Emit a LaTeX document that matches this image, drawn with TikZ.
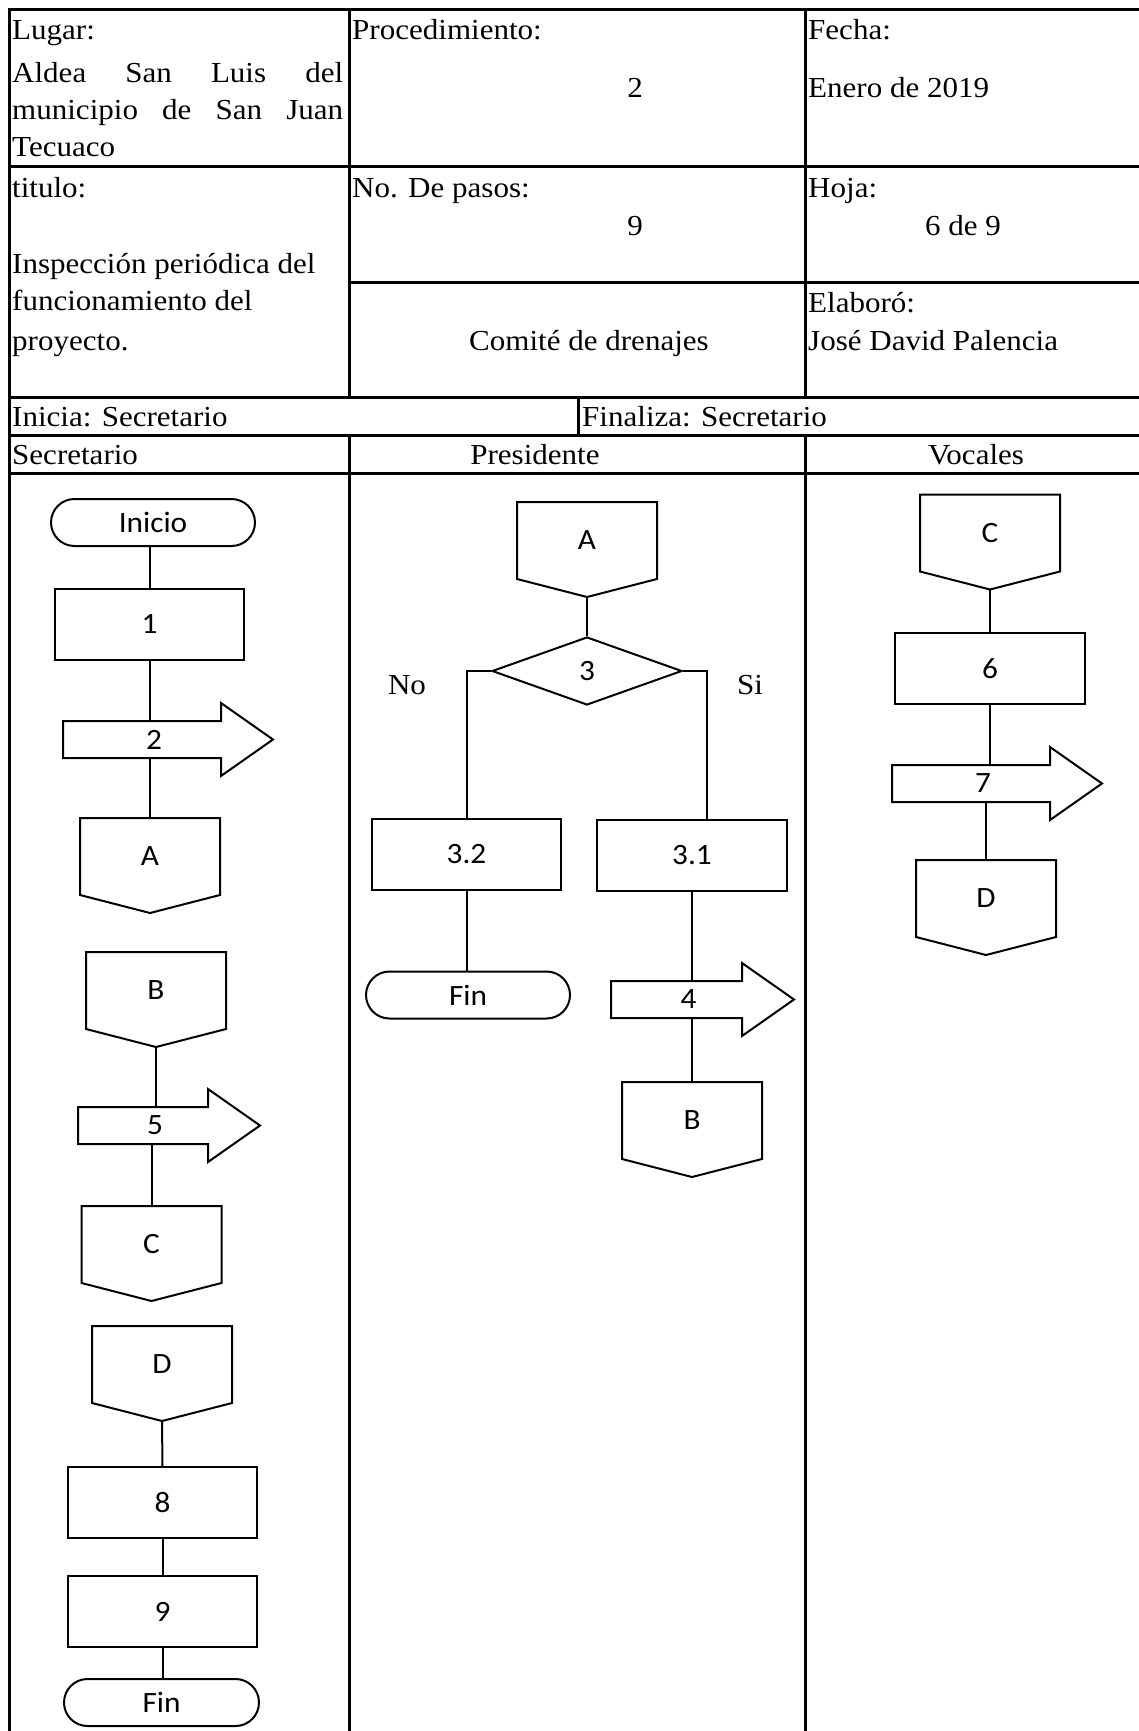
\documentclass[tikz,border=0pt]{standalone}
\usepackage{fontspec}
\setmainfont{Liberation Serif}[FakeStretch=1.07]
\newfontfamily\shapefont{Carlito}[FakeStretch=1.06]
\usetikzlibrary{shapes.geometric,shapes.misc}
\tikzset{
  tline/.style={line width=3pt},
  ln/.style={line width=2pt},
  htxt/.style={inner sep=0pt, anchor=base west, font=\fontsize{29}{36}\selectfont},
  hctr/.style={htxt, anchor=base},
  shp/.style={draw, line width=2pt, inner sep=0pt, font=\shapefont\fontsize{29.5}{35}\selectfont},
  procbox/.style={shp, rectangle, minimum width=189pt, minimum height=71pt},
  termbox/.style={shp, rounded rectangle, minimum width=204pt, minimum height=47pt},
  decbox/.style={shp, diamond, minimum width=190pt, minimum height=68pt},
  offbody/.style={shp, draw=none, rectangle, minimum width=138pt, minimum height=75pt},
  arrbody/.style={shp, draw=none, rectangle, minimum height=35pt},
}
\newcommand\offpage[3]{%
  \node[offbody] (#1) at (#2) {#3};
  \draw[ln] (#1.north west) -- (#1.north east) -- (#1.south east) -- ([yshift=-18pt]#1.south) coordinate (#1-tip) -- (#1.south west) -- cycle;
}
\newcommand\flowarrow[4]{%
  \node[arrbody, minimum width=#3] (#1) at (#2) {\hspace*{24pt}#4};
  \draw[ln] (#1.north west) -- (#1.north east) -- ([yshift=18pt]#1.north east) -- ([xshift=52pt]#1.east) -- ([yshift=-18pt]#1.south east) -- (#1.south east) -- (#1.south west) -- cycle;
}
\begin{document}
\begin{tikzpicture}[x=1pt, y=-1pt]
\useasboundingbox (0,0) rectangle (1138,1731);
% ---------- table ----------
\draw[tline] (1145,10) -- (9,10) -- (9,1740);
\draw[tline] (349,10) -- (349,397);
\draw[tline] (349,435) -- (349,1740);
\draw[tline] (805,10) -- (805,397);
\draw[tline] (805,435) -- (805,1740);
\draw[tline] (9,167) -- (1145,167);
\draw[tline] (349,282) -- (1145,282);
\draw[tline] (9,397) -- (1145,397);
\draw[tline] (578,397) -- (578,435);
\draw[tline] (9,435) -- (1145,435);
\draw[tline] (9,473) -- (1145,473);
% ---------- header texts ----------
\node[htxt] (lugar) at (12,40) {Lugar:};
\node[htxt] (lug1) at (12,83) {\makebox[331pt][s]{Aldea San Luis del}};
\node[htxt] (lug2) at (12,120) {\makebox[331pt][s]{municipio de San Juan}};
\node[htxt] (lug3) at (12,157) {Tecuaco};
\node[htxt] (proc) at (352,40) {Procedimiento:};
\node[hctr] (procv) at (635,98) {2};
\node[htxt] (fecha) at (808,40) {Fecha:};
\node[htxt] (fechav) at (808,98) {Enero de 2019};
\node[htxt] (titulo) at (12,197) {titulo:};
\node[htxt] (tit1) at (12,273) {Inspección periódica del};
\node[htxt] (tit2) at (12,310) {funcionamiento del};
\node[htxt] (tit3) at (12,350) {proyecto.};
\node[htxt] (pasos) at (352,197) {No. De pasos:};
\node[hctr] (pasosv) at (635,235) {9};
\node[htxt] (hoja) at (808,197) {Hoja:};
\node[hctr] (hojav) at (963,235) {6 de 9};
\node[hctr] (comite) at (589,350) {Comité de drenajes};
\node[htxt] (elab) at (808,312) {Elaboró:};
\node[htxt] (elabv) at (808,350) {José David Palencia};
\node[htxt] (inicia) at (12,426) {Inicia: Secretario};
\node[htxt] (finaliza) at (582,426) {Finaliza: Secretario};
\node[htxt] (lsec) at (12,464) {Secretario};
\node[hctr] (lpres) at (535,464) {Presidente};
\node[hctr] (lvoc) at (976,464) {Vocales};
% ---------- Secretario lane ----------
\node[termbox] (ini) at (153,522.5) {Inicio};
\node[procbox] (b1) at (149.5,624.5) {1};
\flowarrow{a2}{142,739.5}{156pt}{2}
\offpage{A1}{150,856.5}{A}
\offpage{B1}{156,990.5}{B}
\flowarrow{a5}{143,1125.5}{128pt}{5}
\offpage{C1}{151.5,1244.5}{C}
\offpage{D1}{162,1364.5}{D}
\node[procbox] (b8) at (162.5,1502.5) {8};
\node[procbox] (b9) at (162.5,1611.5) {9};
\node[termbox, minimum width=195pt] (fin1) at (161.5,1702.5) {Fin};
\draw[ln] (b1.north |- ini.south) -- (b1.north);
\draw[ln] (b1.south) -- (b1.south |- a2.north);
\draw[ln] (a2.south -| A1.north) -- (A1.north);
\draw[ln] (B1-tip) -- (B1-tip |- a5.north);
\draw[ln] (a5.south -| C1.north) -- (C1.north);
\draw[ln] (D1-tip) -- (b8.north);
\draw[ln] (b8) -- (b9);
\draw[ln] (b9.south) -- (b9.south |- fin1.north);
% ---------- Presidente lane ----------
\offpage{A2}{587,540.5}{A}
\node[decbox] (d3) at (587,671) {3};
\node[procbox] (b32) at (466.5,854.5) {3.2};
\node[procbox, minimum width=190pt] (b31) at (692,855.5) {3.1};
\node[htxt, anchor=center] (no) at (407,685) {No};
\node[htxt, anchor=center] (si) at (750,685) {Si};
\node[termbox] (fin2) at (468,995) {Fin};
\flowarrow{a4}{676.5,999.5}{129pt}{4}
\offpage{B2}{692,1120.5}{B}
\draw[ln] (A2-tip) -- (d3.north);
\draw[ln] (d3.west) -| (b32.north);
\draw[ln] (d3.east) -| ([xshift=15pt]b31.north);
\draw[ln] (b32.south) -- (b32.south |- fin2.north);
\draw[ln] (b31.south) -- (b31.south |- a4.north);
\draw[ln] (a4.south -| B2.north) -- (B2.north);
% ---------- Vocales lane ----------
\offpage{C2}{990,533}{C}
\node[procbox, minimum width=190pt] (b6) at (990,668.5) {6};
\flowarrow{a7}{971,783.5}{156pt}{7}
\offpage{D2}{986,898.5}{D}
\draw[ln] (C2-tip) -- (b6.north);
\draw[ln] (b6.south) -- (b6.south |- a7.north);
\draw[ln] (a7.south -| D2.north) -- (D2.north);
\end{tikzpicture}
\end{document}
